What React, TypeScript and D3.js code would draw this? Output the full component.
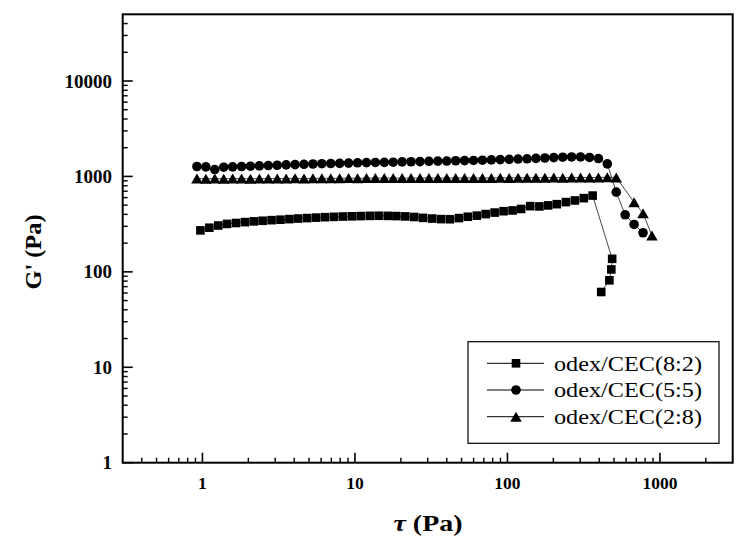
import React from 'react';
import * as d3 from 'd3';

// ---- Data ----
const seriesNames = ['odex/CEC(8:2)', 'odex/CEC(5:5)', 'odex/CEC(2:8)'];

const xTickValues = [1, 10, 100, 1000];
const xTickLabels = ['1', '10', '100', '1000'];
const yTickValues = [1, 10, 100, 1000, 10000];
const yTickLabels = ['1', '10', '100', '1000', '10000'];

// odex/CEC(8:2) – squares
const stress82 = [
  0.97, 1.11, 1.27, 1.45, 1.66, 1.9, 2.17, 2.48, 2.84, 3.25, 3.72, 4.25, 4.87, 5.57, 6.37,
  7.29, 8.34, 9.55, 10.9, 12.5, 14.3, 16.4, 18.7, 21.4, 24.5, 28.0, 32.1, 36.7, 42.0, 48.1,
  55.0, 63.0, 72.0, 82.4, 94.3, 108, 123, 141, 162, 185, 211, 242, 277, 317, 362,
  486, 480, 466, 412,
];
const gPrime82 = [
  272, 290, 306, 318, 325, 332, 338, 343, 348, 352, 357, 362, 366, 370, 374,
  377, 380, 382, 384, 386, 387, 386, 384, 381, 376, 368, 362, 357, 356, 366,
  378, 388, 403, 418, 432, 440, 456, 488, 485, 497, 512, 538, 560, 592, 630,
  137, 106, 81.5, 61.5,
];

// odex/CEC(5:5) – circles
const stress55 = [
  0.92, 1.053, 1.205, 1.379, 1.578, 1.805, 2.065, 2.363, 2.704, 3.094, 3.54, 4.051, 4.634,
  5.303, 6.067, 6.943, 7.943, 9.09, 10.4, 11.9, 13.61, 15.58, 17.82, 20.4, 23.33, 26.7,
  30.55, 34.96, 40.0, 45.77, 52.36, 59.92, 68.55, 78.44, 89.74, 102.7, 117.5, 134.5,
  153.8, 176.0, 201.4, 230.5, 263.6, 301.7, 345.1, 395.0,
  451.9, 517.1, 591.6, 676.9, 774.5,
];
const gPrime55 = [
  1270, 1260, 1180, 1250, 1260, 1270, 1280, 1290, 1300, 1310, 1320, 1330, 1340,
  1350, 1360, 1365, 1370, 1380, 1390, 1395, 1400, 1405, 1410, 1420, 1425, 1430,
  1440, 1445, 1450, 1460, 1465, 1470, 1480, 1490, 1500, 1510, 1520, 1530,
  1545, 1560, 1575, 1590, 1600, 1600, 1580, 1540,
  1355, 684, 396, 314, 257,
];

// odex/CEC(2:8) – triangles
const stress28 = [
  0.92, 1.053, 1.205, 1.379, 1.578, 1.805, 2.065, 2.363, 2.704, 3.094, 3.54, 4.051, 4.634,
  5.303, 6.067, 6.943, 7.943, 9.09, 10.4, 11.9, 13.61, 15.58, 17.82, 20.4, 23.33, 26.7,
  30.55, 34.96, 40.0, 45.77, 52.36, 59.92, 68.55, 78.44, 89.74, 102.7, 117.5, 134.5,
  153.8, 176.0, 201.4, 230.5, 263.6, 301.7, 345.1, 395.0, 451.9, 517.1,
  676.9, 774.5, 886.2,
];
const gPrime28 = [
  950, 945, 950, 945, 950, 950, 945, 950, 950, 950, 950, 955, 950,
  955, 955, 955, 955, 960, 955, 960, 960, 960, 960, 960, 960, 960,
  965, 960, 960, 965, 965, 965, 965, 965, 970, 965, 970, 970,
  970, 970, 975, 970, 975, 975, 975, 975, 980, 975,
  537, 412, 240,
];

const series = [
  { name: seriesNames[0], xs: stress82, ys: gPrime82, marker: 'square' },
  { name: seriesNames[1], xs: stress55, ys: gPrime55, marker: 'circle' },
  { name: seriesNames[2], xs: stress28, ys: gPrime28, marker: 'triangle' },
];

function Marker({ type, cx, cy }: { type: string; cx: number; cy: number }) {
  if (type === 'square') {
    const s = 8.6;
    return <rect x={cx - s / 2} y={cy - s / 2} width={s} height={s} fill="#000" />;
  }
  if (type === 'circle') {
    return <circle cx={cx} cy={cy} r={4.8} fill="#000" />;
  }
  const w = 11.5, h = 10;
  return (
    <path
      d={`M${cx},${cy - h / 2}L${cx + w / 2},${cy + h / 2}L${cx - w / 2},${cy + h / 2}Z`}
      fill="#000"
    />
  );
}

export default function App() {
  const W = 750, H = 545;
  const left = 122.7, right = 732.7, top = 14.3, bottom = 462.7;
  const x = d3.scaleLog().domain([0.3, 3000]).range([left, right]);
  const y = d3.scaleLog().domain([1, 50000]).range([bottom, top]);

  const minorX: number[] = [];
  for (let e = -1; e <= 3; e++)
    for (let m = 2; m <= 9; m++) {
      const v = m * Math.pow(10, e);
      if (v > 0.31 && v < 2990) minorX.push(v);
    }
  const minorY: number[] = [];
  for (let e = 0; e <= 4; e++)
    for (let m = 2; m <= 9; m++) {
      const v = m * Math.pow(10, e);
      if (v < 49000) minorY.push(v);
    }

  const line = d3
    .line<[number, number]>()
    .x((d) => x(d[0]))
    .y((d) => y(d[1]));

  const serif = '"Liberation Serif", "Times New Roman", serif';

  const legendX = 468, legendY = 341.7, legendW = 251, legendH = 101.6;
  const legendRows = [363.3, 390, 416.7];

  return (
    <svg
      width={W}
      height={H}
      style={{ position: 'absolute', left: 0, top: 0, background: '#fff' }}
      fontFamily={serif}
    >
      <rect x={0} y={0} width={W} height={H} fill="#fff" />

      {/* data lines */}
      {series.map((s) => (
        <path
          key={'l' + s.name}
          d={line(s.xs.map((v, i) => [v, s.ys[i]] as [number, number])) || ''}
          fill="none"
          stroke="#333"
          strokeWidth={0.9}
        />
      ))}
      {/* markers */}
      {series.map((s) =>
        s.xs.map((v, i) => (
          <Marker key={s.name + i} type={s.marker} cx={x(v)} cy={y(s.ys[i])} />
        ))
      )}

      {/* x ticks */}
      {xTickValues.map((v) => (
        <line key={'xt' + v} x1={x(v)} x2={x(v)} y1={bottom} y2={bottom - 10} stroke="#000" strokeWidth={1.6} />
      ))}
      {minorX.map((v) => (
        <line key={'xm' + v} x1={x(v)} x2={x(v)} y1={bottom} y2={bottom - 5} stroke="#000" strokeWidth={1.4} />
      ))}
      {xTickValues.map((v, i) => (
        <text key={'xl' + v} x={x(v)} y={488.5} textAnchor="middle" fontSize={17.5} fontWeight="bold">
          {xTickLabels[i]}
        </text>
      ))}

      {/* y ticks */}
      {yTickValues.map((v) => (
        <line key={'yt' + v} x1={left} x2={left + 10} y1={y(v)} y2={y(v)} stroke="#000" strokeWidth={1.6} />
      ))}
      {minorY.map((v) => (
        <line key={'ym' + v} x1={left} x2={left + 5} y1={y(v)} y2={y(v)} stroke="#000" strokeWidth={1.4} />
      ))}
      {yTickValues.map((v, i) => (
        <text key={'yl' + v} x={112} y={y(v)} dy="0.35em" textAnchor="end" fontSize={19} fontWeight="bold">
          {yTickLabels[i]}
        </text>
      ))}

      {/* frame */}
      <rect x={left} y={top} width={right - left} height={bottom - top} fill="none" stroke="#000" strokeWidth={2} />

      {/* axis titles */}
      <text
        transform={`translate(41,${252}) rotate(-90)`}
        textAnchor="middle"
        fontSize={24}
        fontWeight="bold"
        textLength={75}
        lengthAdjust="spacingAndGlyphs"
      >
        G' (Pa)
      </text>
      <text
        x={428}
        y={531}
        textAnchor="middle"
        fontSize={24}
        fontWeight="bold"
        textLength={69}
        lengthAdjust="spacingAndGlyphs"
      >
        <tspan fontStyle="italic">τ</tspan> (Pa)
      </text>

      {/* legend */}
      <rect x={legendX} y={legendY} width={legendW} height={legendH} fill="#fff" stroke="#000" strokeWidth={1.2} />
      {series.map((s, i) => (
        <g key={'lg' + s.name}>
          <line x1={487} x2={544} y1={legendRows[i]} y2={legendRows[i]} stroke="#000" strokeWidth={1} />
          <Marker type={s.marker} cx={516} cy={legendRows[i]} />
          <text x={554} y={legendRows[i]} dy="0.33em" fontSize={22} textLength={148} lengthAdjust="spacingAndGlyphs">
            {s.name}
          </text>
        </g>
      ))}
    </svg>
  );
}
